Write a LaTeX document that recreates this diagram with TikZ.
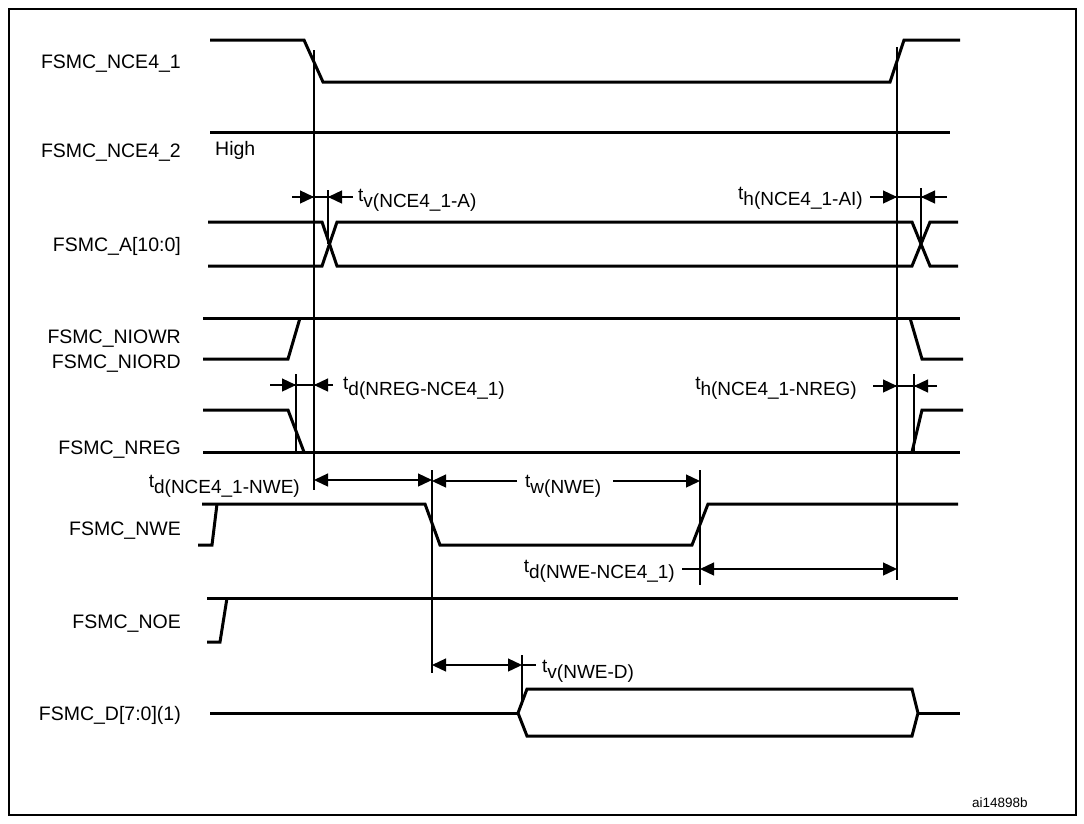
\documentclass[tikz,border=0pt]{standalone}
\usepackage{fontspec}
\setmainfont{Liberation Sans}
\usetikzlibrary{arrows.meta}
\newcommand\tsub[1]{\raisebox{6pt}{t}#1}
\begin{document}
\begin{tikzpicture}[x=1pt,y=-1pt,
  sig/.style={line width=3pt, line join=miter},
  thinl/.style={line width=1.3pt},
  tipr/.style={thinl,-{Triangle[length=14pt,width=13pt]}},
  tipb/.style={thinl,{Triangle[length=14pt,width=13pt]}-{Triangle[length=14pt,width=13pt]}},
  lab/.style={inner sep=0pt, font=\fontsize{19.5}{22}\selectfont},
  tlab/.style={inner sep=0pt, font=\fontsize{19}{22}\selectfont}]
\useasboundingbox (0,0) rectangle (1084,823);
\draw[line width=1.5pt] (9,9) rectangle (1076,815);

% signal names
\node[lab, anchor=base east] (nce41) at (181,68) {FSMC\_NCE4\_1};
\node[lab, anchor=base east] (nce42) at (181,157) {FSMC\_NCE4\_2};
\node[lab, anchor=base west] (high) at (215,155) {High};
\node[lab, anchor=base east] (addr) at (181,251) {FSMC\_A[10:0]};
\node[lab, anchor=base east] (niowr) at (181,343) {FSMC\_NIOWR};
\node[lab, anchor=base east] (niord) at (181,368) {FSMC\_NIORD};
\node[lab, anchor=base east] (nreg) at (181,454) {FSMC\_NREG};
\node[lab, anchor=base east] (nwe) at (181,535) {FSMC\_NWE};
\node[lab, anchor=base east] (noe) at (181,628) {FSMC\_NOE};
\node[lab, anchor=base east] (data) at (181,720) {FSMC\_D[7:0](1)};
\node[inner sep=0pt, font=\fontsize{13.5}{16}\selectfont, anchor=base west] (ref) at (972,807) {ai14898b};

% waveforms
\draw[sig] (210,40) -- (304,40) -- (323,82) -- (890,82) -- (904,40) -- (960,40);
\draw[sig] (210,132) -- (950,132);
\draw[sig] (208,222) -- (322,222) -- (337,266) -- (912,266) -- (930,222) -- (958,222);
\draw[sig] (208,266) -- (322,266) -- (337,222) -- (912,222) -- (930,266) -- (958,266);
\draw[sig] (203,318) -- (960,318);
\draw[sig] (203,359) -- (288,359) -- (300,318);
\draw[sig] (910,318) -- (922,359) -- (963,359);
\draw[sig] (203,452) -- (960,452);
\draw[sig] (203,410) -- (288,410) -- (304,452);
\draw[sig] (912,452) -- (922,410) -- (963,410);
\draw[sig] (198,545) -- (212,545) -- (217,504);
\draw[sig] (202,504) -- (425,504) -- (440,545) -- (692,545) -- (708,504) -- (958,504);
\draw[sig] (207,642) -- (220,642) -- (227,598);
\draw[sig] (207,598) -- (958,598);
\draw[sig] (210,713) -- (518,713);
\draw[sig] (518,713) -- (527,689) -- (912,689) -- (918,713) -- (912,736) -- (527,736) -- cycle;
\draw[sig] (918,713) -- (960,713);

% reference verticals
\draw[thinl] (314,50) -- (314,490);
\draw[thinl] (897,47) -- (897,580);
\draw[thinl] (432,470) -- (432,673);
\draw[thinl] (700,470) -- (700,585);
\draw[thinl] (328,190) -- (328,244);
\draw[thinl] (921,188) -- (921,244);
\draw[thinl] (296,374) -- (296,453);
\draw[thinl] (914,374) -- (914,452);
\draw[thinl] (522,655) -- (522,705);

% tv(NCE4_1-A)
\draw[thinl] (292,197) -- (353,197);
\draw[tipr] (292,197) -- (314,197);
\draw[tipr] (353,197) -- (328,197);
\node[tlab, anchor=base west] (tv1) at (358,207) {\tsub{v(NCE4\_1-A)}};
% th(NCE4_1-AI)
\draw[thinl] (870,197) -- (947,197);
\draw[tipr] (870,197) -- (897,197);
\draw[tipr] (947,197) -- (921,197);
\node[tlab, anchor=base east] (th1) at (863,205) {\tsub{h(NCE4\_1-AI)}};
% td(NREG-NCE4_1)
\draw[thinl] (270,385) -- (333,385);
\draw[tipr] (270,385) -- (296,385);
\draw[tipr] (333,385) -- (314,385);
\node[tlab, anchor=base west] (td1) at (343,395) {\tsub{d(NREG-NCE4\_1)}};
% th(NCE4_1-NREG)
\draw[thinl] (873,386) -- (937,386);
\draw[tipr] (873,386) -- (897,386);
\draw[tipr] (937,386) -- (914,386);
\node[tlab, anchor=base east] (th2) at (857,395) {\tsub{h(NCE4\_1-NREG)}};
% td(NCE4_1-NWE)
\draw[tipb] (314,480) -- (432,480);
\node[tlab, anchor=base east] (td2) at (300,493) {\tsub{d(NCE4\_1-NWE)}};
% tw(NWE)
\draw[tipr] (517,481) -- (432,481);
\draw[tipr] (613,481) -- (700,481);
\node[tlab, anchor=base west] (tw) at (525,493) {\tsub{w(NWE)}};
% td(NWE-NCE4_1)
\draw[thinl] (682,569) -- (700,569);
\draw[tipb] (700,569) -- (897,569);
\node[tlab, anchor=base east] (td3) at (675,578) {\tsub{d(NWE-NCE4\_1)}};
% tv(NWE-D)
\draw[tipb] (432,665) -- (522,665);
\draw[thinl] (522,665) -- (536,665);
\node[tlab, anchor=base west] (tv2) at (542,678) {\tsub{v(NWE-D)}};
\end{tikzpicture}
\end{document}
